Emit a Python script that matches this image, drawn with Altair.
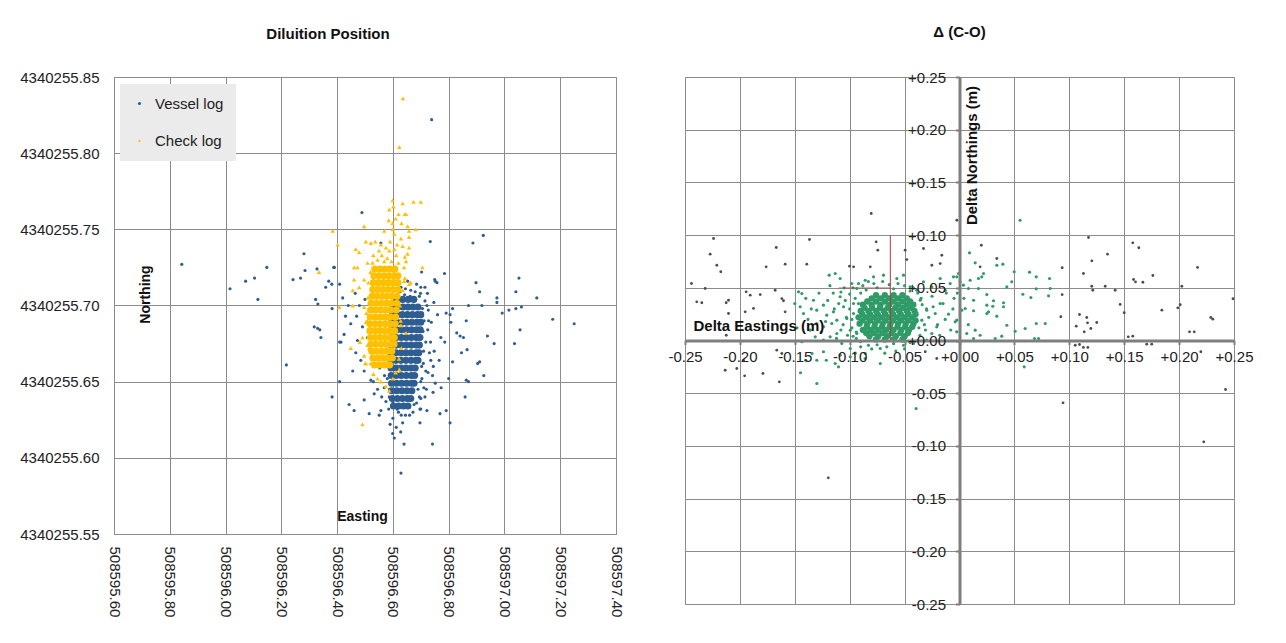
import altair as alt
import pandas as pd

FONT = "Liberation Sans"
GRID = "#8c8c8c"
BLUE = "#2E5D91"
GOLD = "#FFC000"
GREEN = "#2F9B67"
GREY = "#4D4D4D"
RED = "#B03A3A"

# ---------------- left panel data ----------------
E_TICKS = [508595.6, 508595.8, 508596.0, 508596.2, 508596.4, 508596.6,
           508596.8, 508597.0, 508597.2, 508597.4]
N_TICKS = [4340255.55, 4340255.60, 4340255.65, 4340255.70, 4340255.75,
           4340255.80, 4340255.85]
SERIES = ["Vessel log", "Check log"]

VESSEL = [
    (508595.843, 4340255.727), (508596.148, 4340255.725), (508596.104, 4340255.718),
    (508596.072, 4340255.716), (508596.016, 4340255.711), (508596.116, 4340255.704),
    (508596.281, 4340255.734), (508596.285, 4340255.723), (508596.242, 4340255.717),
    (508596.269, 4340255.718), (508596.328, 4340255.724), (508596.388, 4340255.725),
    (508596.370, 4340255.716), (508596.381, 4340255.714), (508596.359, 4340255.712),
    (508596.409, 4340255.714), (508596.323, 4340255.704), (508596.331, 4340255.701),
    (508596.382, 4340255.698), (508596.318, 4340255.686), (508596.330, 4340255.685),
    (508596.338, 4340255.684), (508596.342, 4340255.679), (508596.218, 4340255.661),
    (508596.382, 4340255.640), (508596.409, 4340255.676), (508596.409, 4340255.650),
    (508596.739, 4340255.822), (508596.924, 4340255.746), (508596.887, 4340255.741),
    (508596.734, 4340255.742), (508596.785, 4340255.721), (508596.750, 4340255.717),
    (508596.758, 4340255.715), (508596.898, 4340255.715), (508596.911, 4340255.709),
    (508597.052, 4340255.718), (508597.041, 4340255.709), (508597.116, 4340255.705),
    (508596.973, 4340255.705), (508596.703, 4340255.722), (508596.973, 4340255.702),
    (508596.919, 4340255.700), (508596.871, 4340255.700), (508596.992, 4340255.695),
    (508597.016, 4340255.697), (508597.041, 4340255.698), (508597.061, 4340255.699),
    (508597.173, 4340255.691), (508597.250, 4340255.688), (508597.056, 4340255.684),
    (508596.863, 4340255.690), (508596.814, 4340255.698), (508596.805, 4340255.694),
    (508596.791, 4340255.695), (508596.808, 4340255.689), (508596.939, 4340255.680),
    (508596.963, 4340255.675), (508597.036, 4340255.675), (508596.829, 4340255.682),
    (508596.841, 4340255.680), (508596.853, 4340255.679), (508596.866, 4340255.671),
    (508596.846, 4340255.669), (508596.911, 4340255.663), (508596.904, 4340255.662),
    (508596.814, 4340255.663), (508596.926, 4340255.654), (508596.863, 4340255.651),
    (508596.871, 4340255.650), (508596.800, 4340255.652), (508596.859, 4340255.640),
    (508596.773, 4340255.646), (508596.752, 4340255.649), (508596.744, 4340255.643),
    (508596.722, 4340255.631), (508596.697, 4340255.632), (508596.791, 4340255.631),
    (508596.769, 4340255.629), (508596.805, 4340255.623), (508596.697, 4340255.623),
    (508596.640, 4340255.609), (508596.742, 4340255.609), (508596.629, 4340255.590),
    (508596.747, 4340255.702), (508596.760, 4340255.694), (508596.772, 4340255.679),
    (508596.786, 4340255.676), (508596.748, 4340255.670), (508596.766, 4340255.664),
    (508596.718, 4340255.657), (508596.742, 4340255.654), (508596.711, 4340255.646),
    (508596.700, 4340255.639), (508596.676, 4340255.635), (508596.736, 4340255.664),
    (508596.489, 4340255.761), (508596.390, 4340255.725), (508596.449, 4340255.688),
    (508596.425, 4340255.681), (508596.414, 4340255.676), (508596.467, 4340255.669),
    (508596.456, 4340255.657), (508596.485, 4340255.664), (508596.497, 4340255.657),
    (508596.443, 4340255.635), (508596.461, 4340255.631), (508596.497, 4340255.638),
    (508596.515, 4340255.629), (508596.551, 4340255.628), (508596.557, 4340255.631),
    (508596.599, 4340255.616), (508596.605, 4340255.613), (508596.635, 4340255.623),
    (508596.587, 4340255.640), (508596.569, 4340255.646), (508596.521, 4340255.651),
    (508596.533, 4340255.642), (508596.491, 4340255.686), (508596.509, 4340255.679),
    (508596.473, 4340255.677), (508596.664, 4340255.710), (508596.700, 4340255.712),
    (508596.724, 4340255.708), (508596.682, 4340255.704), (508596.653, 4340255.716),
    (508596.629, 4340255.712), (508596.557, 4340255.741), (508596.599, 4340255.723),
    (508596.752, 4340255.716), (508596.712, 4340255.690), (508596.725, 4340255.684),
    (508596.718, 4340255.676), (508596.731, 4340255.669), (508596.709, 4340255.662),
    (508596.727, 4340255.697), (508596.715, 4340255.703), (508596.704, 4340255.652),
    (508596.690, 4340255.645), (508596.720, 4340255.645), (508596.738, 4340255.689),
    (508596.745, 4340255.660), (508596.706, 4340255.698), (508596.699, 4340255.708),
    (508596.685, 4340255.714), (508596.642, 4340255.707), (508596.610, 4340255.706),
    (508596.620, 4340255.630), (508596.600, 4340255.626), (508596.585, 4340255.632),
    (508596.575, 4340255.637), (508596.560, 4340255.640), (508596.545, 4340255.645),
    (508596.530, 4340255.650), (508596.570, 4340255.654), (508596.553, 4340255.659),
    (508596.590, 4340255.622), (508596.612, 4340255.620), (508596.628, 4340255.617),
    (508596.480, 4340255.700), (508596.470, 4340255.693), (508596.500, 4340255.704),
    (508596.465, 4340255.708), (508596.440, 4340255.700), (508596.430, 4340255.693),
    (508596.420, 4340255.705), (508596.705, 4340255.695), (508596.708, 4340255.683),
    (508596.710, 4340255.670), (508596.703, 4340255.660), (508596.700, 4340255.650),
    (508596.695, 4340255.640), (508596.685, 4340255.636), (508596.672, 4340255.630),
    (508596.660, 4340255.628), (508596.645, 4340255.628), (508596.630, 4340255.628),
    (508596.615, 4340255.632), (508596.600, 4340255.636), (508596.588, 4340255.645),
    (508596.580, 4340255.652), (508596.695, 4340255.706), (508596.680, 4340255.709),
    (508596.662, 4340255.706), (508596.645, 4340255.711), (508596.625, 4340255.709),
    (508596.715, 4340255.712), (508596.722, 4340255.700), (508596.728, 4340255.690),
    (508596.735, 4340255.676), (508596.726, 4340255.656), (508596.715, 4340255.640),
    (508596.700, 4340255.632),
]

# dense core of the vessel log: (northing, [eastings])
VESSEL_CORE = [
    (4340255.704, [508596.615, 508596.635, 508596.655, 508596.675]),
    (4340255.699, [508596.600, 508596.618, 508596.636, 508596.654, 508596.672, 508596.690]),
    (4340255.694, [508596.598, 508596.616, 508596.634, 508596.652, 508596.670, 508596.688, 508596.700]),
    (4340255.689, [508596.596, 508596.614, 508596.632, 508596.650, 508596.668, 508596.686, 508596.700]),
    (4340255.684, [508596.595, 508596.613, 508596.631, 508596.649, 508596.667, 508596.685, 508596.698]),
    (4340255.679, [508596.594, 508596.612, 508596.630, 508596.648, 508596.666, 508596.684, 508596.697]),
    (4340255.674, [508596.594, 508596.612, 508596.630, 508596.648, 508596.666, 508596.684, 508596.695]),
    (4340255.669, [508596.593, 508596.611, 508596.629, 508596.647, 508596.665, 508596.683, 508596.693]),
    (4340255.664, [508596.593, 508596.611, 508596.629, 508596.647, 508596.665, 508596.682, 508596.690]),
    (4340255.659, [508596.593, 508596.611, 508596.629, 508596.647, 508596.665, 508596.680]),
    (4340255.654, [508596.594, 508596.612, 508596.630, 508596.648, 508596.666, 508596.678]),
    (4340255.649, [508596.595, 508596.613, 508596.631, 508596.649, 508596.667, 508596.676]),
    (4340255.644, [508596.596, 508596.614, 508596.632, 508596.650, 508596.668]),
    (4340255.639, [508596.598, 508596.616, 508596.634, 508596.652, 508596.664]),
    (4340255.634, [508596.602, 508596.620, 508596.638, 508596.654]),
]

CHECK = [
    (508596.636, 4340255.836), (508596.623, 4340255.804), (508596.599, 4340255.769),
    (508596.602, 4340255.765), (508596.635, 4340255.767), (508596.674, 4340255.768),
    (508596.700, 4340255.768), (508596.587, 4340255.763), (508596.647, 4340255.760),
    (508596.631, 4340255.754), (508596.653, 4340255.752), (508596.599, 4340255.754),
    (508596.569, 4340255.749), (508596.605, 4340255.747), (508596.682, 4340255.750),
    (508596.658, 4340255.749), (508596.497, 4340255.752), (508596.384, 4340255.749),
    (508596.557, 4340255.740), (508596.521, 4340255.741), (508596.503, 4340255.742),
    (508596.629, 4340255.744), (508596.635, 4340255.739), (508596.605, 4340255.737),
    (508596.587, 4340255.736), (508596.569, 4340255.729), (508596.653, 4340255.734),
    (508596.647, 4340255.729), (508596.479, 4340255.735), (508596.461, 4340255.725),
    (508596.473, 4340255.725), (508596.509, 4340255.728), (508596.527, 4340255.728),
    (508596.497, 4340255.717), (508596.461, 4340255.717), (508596.456, 4340255.710),
    (508596.479, 4340255.712), (508596.402, 4340255.740), (508596.706, 4340255.725),
    (508596.664, 4340255.715), (508596.640, 4340255.716), (508596.635, 4340255.710),
    (508596.408, 4340255.699), (508596.456, 4340255.700), (508596.497, 4340255.699),
    (508596.503, 4340255.689), (508596.491, 4340255.679), (508596.509, 4340255.674),
    (508596.497, 4340255.667), (508596.503, 4340255.662), (508596.629, 4340255.687),
    (508596.647, 4340255.682), (508596.623, 4340255.658), (508596.557, 4340255.650),
    (508596.575, 4340255.647), (508596.587, 4340255.644), (508596.491, 4340255.622),
    (508596.335, 4340255.722), (508596.467, 4340255.737), (508596.537, 4340255.742),
    (508596.482, 4340255.676), (508596.449, 4340255.672), (508596.501, 4340255.662),
    (508596.643, 4340255.760), (508596.658, 4340255.745), (508596.658, 4340255.738),
    (508596.643, 4340255.732), (508596.640, 4340255.725), (508596.643, 4340255.718),
    (508596.658, 4340255.714), (508596.560, 4340255.733), (508596.575, 4340255.738),
    (508596.590, 4340255.742), (508596.612, 4340255.733), (508596.620, 4340255.728),
    (508596.545, 4340255.730), (508596.580, 4340255.731), (508596.595, 4340255.729),
    (508596.550, 4340255.736), (508596.615, 4340255.740), (508596.600, 4340255.750),
    (508596.585, 4340255.756), (508596.620, 4340255.760), (508596.610, 4340255.757),
    (508596.510, 4340255.705), (508596.505, 4340255.695), (508596.512, 4340255.683),
    (508596.515, 4340255.672), (508596.520, 4340255.662), (508596.530, 4340255.655),
    (508596.545, 4340255.652), (508596.600, 4340255.652), (508596.610, 4340255.656),
    (508596.625, 4340255.700), (508596.628, 4340255.690), (508596.630, 4340255.672),
    (508596.622, 4340255.665), (508596.512, 4340255.715), (508596.520, 4340255.722),
    (508596.530, 4340255.733), (508596.508, 4340255.690),
]

CHECK_CORE = [
    (4340255.7240, [508596.535, 508596.553, 508596.571, 508596.589, 508596.607]),
    (4340255.7195, [508596.532, 508596.550, 508596.568, 508596.586, 508596.604, 508596.618]),
    (4340255.7150, [508596.530, 508596.548, 508596.566, 508596.584, 508596.602, 508596.618]),
    (4340255.7105, [508596.528, 508596.546, 508596.564, 508596.582, 508596.600, 508596.618]),
    (4340255.7060, [508596.525, 508596.543, 508596.561, 508596.579, 508596.597, 508596.615]),
    (4340255.7015, [508596.522, 508596.540, 508596.558, 508596.576, 508596.594, 508596.614]),
    (4340255.6970, [508596.520, 508596.538, 508596.556, 508596.574, 508596.592, 508596.612]),
    (4340255.6925, [508596.519, 508596.537, 508596.555, 508596.573, 508596.591, 508596.610]),
    (4340255.6880, [508596.518, 508596.536, 508596.554, 508596.572, 508596.590, 508596.608]),
    (4340255.6835, [508596.518, 508596.536, 508596.554, 508596.572, 508596.590, 508596.606]),
    (4340255.6790, [508596.519, 508596.537, 508596.555, 508596.573, 508596.591, 508596.605]),
    (4340255.6745, [508596.521, 508596.539, 508596.557, 508596.575, 508596.593, 508596.604]),
    (4340255.6700, [508596.524, 508596.542, 508596.560, 508596.578, 508596.596]),
    (4340255.6655, [508596.528, 508596.546, 508596.564, 508596.582, 508596.598]),
    (4340255.6610, [508596.534, 508596.552, 508596.570, 508596.588]),
]

# ---------------- right panel data ----------------
D_TICKS = [-0.25, -0.2, -0.15, -0.1, -0.05, 0.0, 0.05, 0.1, 0.15, 0.2, 0.25]

GREEN_PTS = [
    (-0.1187, 0.0620), (-0.1132, 0.0636), (-0.1087, 0.0588), (-0.1466, 0.0462),
    (-0.1436, 0.0446), (-0.1330, 0.0382), (-0.1300, 0.0288), (-0.1239, 0.0335),
    (-0.1209, 0.0240), (-0.1163, 0.0161), (-0.1087, 0.0415), (-0.1056, 0.0320),
    (-0.1026, 0.0209), (-0.0995, 0.0098), (-0.1117, 0.0066), (-0.1239, 0.0003),
    (-0.1178, 0.0035), (-0.0981, 0.0541), (-0.0935, 0.0493), (-0.0965, 0.0351),
    (-0.1300, 0.0161), (-0.1360, 0.0098), (-0.1421, 0.0256), (-0.1451, 0.0320),
    (-0.1436, -0.0012), (-0.1239, -0.0107), (-0.1072, -0.0028), (-0.0995, -0.0076),
    (-0.0859, -0.0123), (-0.0829, -0.0045), (-0.0722, -0.0076), (-0.0662, -0.0060),
    (-0.0510, -0.0045), (-0.0419, -0.0028), (-0.0298, 0.0003), (-0.0252, 0.0066),
    (-0.0207, 0.0130), (-0.0221, 0.0256), (-0.0176, 0.0351), (-0.0130, 0.0477),
    (-0.0085, 0.0541), (-0.0009, 0.0636), (-0.0055, 0.0604), (-0.0176, 0.0588),
    (-0.0252, 0.0509), (-0.0328, 0.0557), (-0.0389, 0.0477), (-0.0358, 0.0382),
    (-0.0298, 0.0288), (-0.0343, 0.0193), (-0.0571, 0.0588), (-0.0692, 0.0620),
    (-0.0783, 0.0604), (-0.0859, 0.0572), (-0.0510, 0.0620), (-0.0449, 0.0509),
    (-0.0859, -0.0171), (-0.0995, -0.0155), (-0.1132, -0.0218), (-0.1087, -0.0139),
    (-0.0722, -0.0218), (-0.1300, -0.0187), (-0.1239, 0.0130), (-0.1314, 0.0035),
    (-0.1148, 0.0272), (-0.1117, 0.0193), (-0.0965, 0.0256), (-0.0935, 0.0066),
    (-0.1448, -0.0306), (-0.1299, -0.0408), (-0.0395, -0.0645), (-0.1213, -0.0187),
    (-0.1102, -0.0250), (-0.1343, -0.0123), (-0.1400, -0.0187), (0.0589, -0.0250),
    (0.0683, 0.0019), (0.0552, 0.1141),
    (0.0091, 0.0832), (0.0143, 0.0737), (0.0219, 0.0636), (0.0203, 0.0604),
    (0.0173, 0.0588), (0.0097, 0.0572), (0.0082, 0.0493), (0.0036, 0.0525),
    (0.0006, 0.0557), (-0.0025, 0.0604), (0.0173, 0.0493), (0.0340, 0.0714),
    (0.0395, 0.0724), (0.0498, 0.0652), (0.0476, 0.0557), (0.0431, 0.0509),
    (0.0249, 0.0436), (0.0128, 0.0382), (0.0021, 0.0288), (0.0052, 0.0304),
    (0.0128, 0.0282), (0.0249, 0.0335), (0.0310, 0.0377), (0.0303, 0.0325),
    (0.0264, 0.0272), (0.0340, 0.0231), (0.0401, 0.0358), (0.0401, 0.0320),
    (0.0577, 0.0439), (0.0650, 0.0408), (0.0699, 0.0490), (0.0699, 0.0604),
    (0.0638, 0.0648), (0.0820, 0.0588), (0.0811, 0.0424), (0.0826, 0.0493),
    (0.0781, 0.0161), (0.0699, 0.0161), (0.0598, 0.0114), (0.0507, 0.0088),
    (0.0431, 0.0145), (0.0143, 0.0098), (0.0188, 0.0050), (0.0066, 0.0066),
    (-0.0025, 0.0082), (0.0128, 0.0019), (0.0325, 0.0019), (0.0385, 0.0041),
    (0.0720, 0.0019), (-0.0039, 0.0177), (-0.0025, 0.0193), (0.0249, 0.0256),
    (-0.100, 0.030), (-0.098, 0.012), (-0.095, 0.040), (-0.090, 0.045),
    (-0.085, 0.048), (-0.075, 0.050), (-0.060, 0.049), (-0.045, 0.047),
    (-0.035, 0.040), (-0.030, 0.030), (-0.032, 0.015), (-0.036, 0.005),
    (-0.045, -0.002), (-0.060, -0.003), (-0.075, -0.004), (-0.090, -0.001),
    (-0.097, 0.004), (-0.103, 0.022), (-0.108, 0.010), (-0.028, 0.022),
    (-0.025, 0.042), (-0.020, 0.015), (-0.015, 0.035), (-0.010, 0.025),
    (-0.012, 0.045), (-0.005, 0.040), (-0.008, 0.010), (-0.110, 0.035),
    (-0.115, 0.045), (-0.105, 0.050),
    (-0.150, 0.035), (-0.148, 0.012), (-0.140, 0.040), (-0.138, 0.020),
    (-0.135, 0.030), (-0.128, 0.045), (-0.126, 0.008), (-0.122, 0.018),
    (-0.120, 0.038), (-0.118, 0.052), (-0.114, 0.030), (-0.112, 0.002),
    (-0.108, 0.046), (-0.106, 0.015), (-0.104, 0.038), (-0.102, 0.005),
    (-0.100, 0.044), (-0.098, 0.020), (-0.097, 0.050), (-0.094, 0.002),
    (-0.092, 0.054), (-0.088, 0.052), (-0.083, 0.056), (-0.078, 0.054),
    (-0.070, 0.056), (-0.064, 0.053), (-0.056, 0.054), (-0.050, 0.052),
    (-0.042, 0.050), (-0.038, 0.045), (-0.034, 0.034), (-0.031, 0.010),
    (-0.038, 0.000), (-0.050, -0.008), (-0.058, -0.010), (-0.068, -0.012),
    (-0.080, -0.008), (-0.090, -0.006), (-0.095, -0.012), (-0.092, 0.035),
    (-0.094, 0.008), (-0.040, 0.028), (-0.037, 0.012), (-0.018, 0.005),
    (-0.013, 0.020), (-0.024, 0.032), (-0.006, 0.030), (-0.002, 0.045),
    (0.004, 0.040), (0.008, 0.015),
]

# dense core of the differences: (delta northing, [delta eastings])
GREEN_CORE = [
    (0.043, [-0.076, -0.068, -0.060, -0.052]),
    (0.040, [-0.080, -0.072, -0.064, -0.056, -0.048]),
    (0.037, [-0.084, -0.076, -0.068, -0.060, -0.052, -0.045]),
    (0.034, [-0.088, -0.080, -0.072, -0.064, -0.056, -0.048, -0.042]),
    (0.031, [-0.0865, -0.0795, -0.0725, -0.0655, -0.0585, -0.0515, -0.0445]),
    (0.028, [-0.090, -0.083, -0.076, -0.069, -0.062, -0.055, -0.048, -0.041]),
    (0.025, [-0.0885, -0.0815, -0.0745, -0.0675, -0.0605, -0.0535, -0.0465, -0.040]),
    (0.022, [-0.092, -0.085, -0.078, -0.071, -0.064, -0.057, -0.050, -0.043]),
    (0.019, [-0.0885, -0.0815, -0.0745, -0.0675, -0.0605, -0.0535, -0.0465, -0.040]),
    (0.016, [-0.091, -0.084, -0.077, -0.070, -0.063, -0.056, -0.049, -0.042]),
    (0.013, [-0.0845, -0.0775, -0.0705, -0.0635, -0.0565, -0.0495, -0.043]),
    (0.010, [-0.088, -0.081, -0.074, -0.067, -0.060, -0.053, -0.046]),
    (0.007, [-0.085, -0.078, -0.070, -0.062, -0.054, -0.047]),
    (0.004, [-0.082, -0.074, -0.066, -0.058, -0.050]),
    (0.001, [-0.076, -0.068, -0.060, -0.052]),
]

GREY_PTS = [
    (-0.2240, 0.0968), (-0.2271, 0.0819), (-0.2210, 0.0714), (-0.2174, 0.0652),
    (-0.1669, 0.0882), (-0.1366, 0.0958), (-0.1761, 0.0699), (-0.1588, 0.0724),
    (-0.1391, 0.0724), (-0.1002, 0.0705), (-0.0965, 0.0699), (-0.0813, 0.0699),
    (-0.0759, 0.0936), (-0.0744, 0.0857), (-0.2441, 0.0541), (-0.2316, 0.0493),
    (-0.2393, 0.0367), (-0.2347, 0.0358), (-0.2125, 0.0358), (-0.2104, 0.0382),
    (-0.1943, 0.0462), (-0.1906, 0.0430), (-0.1815, 0.0436), (-0.1679, 0.0477),
    (-0.1618, 0.0398), (-0.1603, 0.0377), (-0.1588, 0.0272), (-0.1952, 0.0272),
    (-0.1876, 0.0304), (-0.2104, 0.0256), (-0.1664, -0.0092), (-0.1618, -0.0123),
    (-0.1967, -0.0187), (-0.2028, -0.0266), (-0.2134, -0.0282), (-0.0480, 0.0768),
    (-0.0495, 0.0857), (-0.0252, 0.0714), (-0.0176, 0.0730), (-0.0161, 0.0809),
    (-0.0328, 0.0873), (-0.0207, -0.0171), (-0.0312, -0.0107), (-0.0804, 0.1205),
    (-0.0024, 0.1141), (0.0199, 0.0904), (-0.1195, -0.1303), (0.0943, -0.0591),
    (0.2225, -0.0961), (0.2423, -0.0465), (-0.1641, -0.0392), (-0.1790, -0.0313),
    (-0.1957, -0.0335), (-0.2124, 0.0050), (0.1537, 0.0035), (0.1705, -0.0035),
    (0.2095, 0.0082), (0.1128, -0.0066), (0.1054, -0.0045), (0.0340, 0.0778),
    (0.0188, 0.0699), (0.0935, 0.0690), (0.1175, 0.0977), (0.1348, 0.0819),
    (0.1205, 0.0756), (0.1129, 0.0636), (0.1205, 0.0515), (0.1214, 0.0477),
    (0.1327, 0.0515), (0.1418, 0.0477), (0.0935, 0.0436), (0.1578, 0.0927),
    (0.1633, 0.0880), (0.1585, 0.0579), (0.1603, 0.0557), (0.1670, 0.0553),
    (0.1761, 0.0617), (0.1463, 0.0342), (0.1500, 0.0263), (0.1843, 0.0288),
    (0.1988, 0.0310), (0.2010, 0.0339), (0.2025, 0.0515), (0.2168, 0.0693),
    (0.2289, 0.0218), (0.2307, 0.0202), (0.2491, 0.0396), (0.1093, 0.0247),
    (0.1159, 0.0218), (0.1166, 0.0168), (0.1250, 0.0171), (0.1063, 0.0136),
    (0.1196, 0.0114), (0.1136, 0.0082), (0.0923, 0.0225), (0.1578, 0.0041),
    (0.2138, 0.0082), (0.1751, -0.0035), (0.1169, -0.0066), (0.1093, -0.0038),
    (0.2198, -0.0107),
]

MEAN_DE = -0.063          # red marker: mean delta easting
MEAN_V_SPAN = [0.0, 0.10]
MEAN_DN = 0.05
MEAN_H_SPAN = [-0.11, -0.063]


def pts(lst, series, cols=("E", "N")):
    df = pd.DataFrame(lst, columns=list(cols))
    df["series"] = series
    return df


def core(rows, series, cols=("E", "N")):
    recs = [(x, y) for y, xs in rows for x in xs]
    return pts(recs, series, cols)


# ---------------- left chart ----------------
xsc = alt.Scale(domain=[E_TICKS[0], E_TICKS[-1]], nice=False, zero=False)
ysc = alt.Scale(domain=[N_TICKS[0], N_TICKS[-1]], nice=False, zero=False)

x_enc = alt.X("E:Q", scale=xsc, axis=alt.Axis(
    values=E_TICKS, format=".2f", labelAngle=90, grid=True, domain=False, ticks=False,
    labelPadding=12, labelOverlap=False, labelFlush=False, title="Easting", titleX=248,
    titleY=-18, titleAlign="center", titleBaseline="middle", titleAngle=0))
y_enc = alt.Y("N:Q", scale=ysc, axis=alt.Axis(
    values=N_TICKS, format=".2f", grid=True, domain=False, ticks=False, labelPadding=15,
    labelOverlap=False, labelFlush=False, title="Northing", titleX=24, titleY=217,
    titleAngle=270, titleAlign="center", titleBaseline="top"))

LEG = dict(title=None, orient="none", legendX=6, legendY=7, fillColor="#ebebeb", padding=12,
           rowPadding=21, labelFontSize=15, labelFont=FONT, labelColor="#222222",
           symbolSize=10, labelOffset=8)
color_enc = alt.Color("series:N", scale=alt.Scale(domain=SERIES, range=[BLUE, GOLD]),
                      legend=alt.Legend(**LEG))
shape_enc = alt.Shape("series:N", scale=alt.Scale(domain=SERIES, range=["circle", "triangle-up"]),
                      legend=alt.Legend(**LEG))

v_sc = alt.Chart(pts(VESSEL, "Vessel log")).mark_point(filled=True, size=10, opacity=1).encode(
    x=x_enc, y=y_enc, color=color_enc, shape=shape_enc)
v_core = alt.Chart(core(VESSEL_CORE, "Vessel log")).mark_circle(size=50, opacity=1).encode(
    x=x_enc, y=y_enc, color=color_enc)
c_sc = alt.Chart(pts(CHECK, "Check log")).mark_point(filled=True, size=20, opacity=1).encode(
    x=x_enc, y=y_enc, color=color_enc, shape=shape_enc)
c_core = alt.Chart(core(CHECK_CORE, "Check log")).mark_circle(size=50, opacity=1).encode(
    x=x_enc, y=y_enc, color=color_enc)

left = alt.layer(v_sc, v_core, c_sc, c_core).properties(
    width=502, height=457,
    title=alt.TitleParams("Diluition Position", fontSize=15, fontWeight="bold", font=FONT,
                          offset=29, dy=1, dx=-37, anchor="middle", color="#111111"))

# ---------------- right chart ----------------
dsc = alt.Scale(domain=[-0.25, 0.25], nice=False, zero=False)
HYPHEN = "replace(format(datum.value, '+.2f'), '\u2212', '-')"

grid_x = alt.Axis(values=D_TICKS, grid=True, labels=False, ticks=False, domain=False, title=None)
grid_y = alt.Axis(values=D_TICKS, grid=True, labels=False, ticks=False, domain=False, title=None)
main_x = alt.Axis(values=D_TICKS, grid=False, orient="bottom", offset=-263.5, labelExpr=HYPHEN,
                  domain=True, domainColor="#7f7f7f", domainWidth=3, ticks=True,
                  tickColor="#7f7f7f", tickWidth=2, tickSize=4, labelPadding=5, zindex=1,
                  labelOverlap=False, labelFlush=False,
                  title="Delta Eastings  (m)", titleX=8, titleY=-15, titleAlign="left",
                  titleBaseline="middle", titleAngle=0, titleFontSize=15)
main_y = alt.Axis(values=D_TICKS, grid=False, orient="left", offset=-274.5, labelExpr=HYPHEN,
                  domain=True, domainColor="#7f7f7f", domainWidth=3, ticks=True,
                  tickColor="#7f7f7f", tickWidth=2, tickSize=4, labelPadding=10, zindex=1,
                  labelOverlap=False, labelFlush=False,
                  title="Delta Northings (m)", titleX=5, titleY=78, titleAngle=270,
                  titleAlign="center", titleBaseline="top", titleFontSize=15)

grey = alt.Chart(pts(GREY_PTS, "grey", ("dE", "dN"))).mark_circle(size=8, color=GREY, opacity=1).encode(
    x=alt.X("dE:Q", scale=dsc, axis=grid_x), y=alt.Y("dN:Q", scale=dsc, axis=grid_y))
green = alt.Chart(pts(GREEN_PTS, "green", ("dE", "dN"))).mark_circle(size=10, color=GREEN, opacity=1).encode(
    x=alt.X("dE:Q", scale=dsc, axis=None), y=alt.Y("dN:Q", scale=dsc, axis=None))
green_core = alt.Chart(core(GREEN_CORE, "green", ("dE", "dN"))).mark_circle(size=40, color=GREEN, opacity=1).encode(
    x=alt.X("dE:Q", scale=dsc, axis=None), y=alt.Y("dN:Q", scale=dsc, axis=None))

red_v = alt.Chart(pd.DataFrame({"x": [MEAN_DE], "y": [MEAN_V_SPAN[0]], "y2": [MEAN_V_SPAN[1]]})).mark_rule(
    color=RED, strokeWidth=1).encode(
    x=alt.X("x:Q", scale=dsc, axis=main_x), y=alt.Y("y:Q", scale=dsc, axis=main_y), y2="y2:Q")
red_h = alt.Chart(pd.DataFrame({"x": [MEAN_H_SPAN[0]], "x2": [MEAN_H_SPAN[1]], "y": [MEAN_DN]})).mark_rule(
    color=RED, strokeWidth=1, opacity=0.6).encode(
    x=alt.X("x:Q", scale=dsc, axis=None), x2="x2:Q", y=alt.Y("y:Q", scale=dsc, axis=None))

right = alt.layer(grey, green, green_core, red_h, red_v).resolve_axis(
    x="independent", y="independent").properties(
    width=549, height=527,
    title=alt.TitleParams("Δ (C-O)", fontSize=15, fontWeight="bold", font=FONT,
                          offset=30, anchor="middle", color="#111111"))

chart = alt.hconcat(left, right, spacing=43).properties(
    padding={"left": 11, "top": 16, "right": 5, "bottom": 5},
    background="white",
).configure_view(stroke=GRID, strokeWidth=1).configure_axis(
    labelFont=FONT, labelFontSize=15, labelColor="#222222", gridColor=GRID, gridWidth=1,
    titleFont=FONT, titleFontSize=14, titleFontWeight="bold", titleColor="#111111",
)

chart.save("out.html", embed_options={"renderer": "svg", "actions": False})
